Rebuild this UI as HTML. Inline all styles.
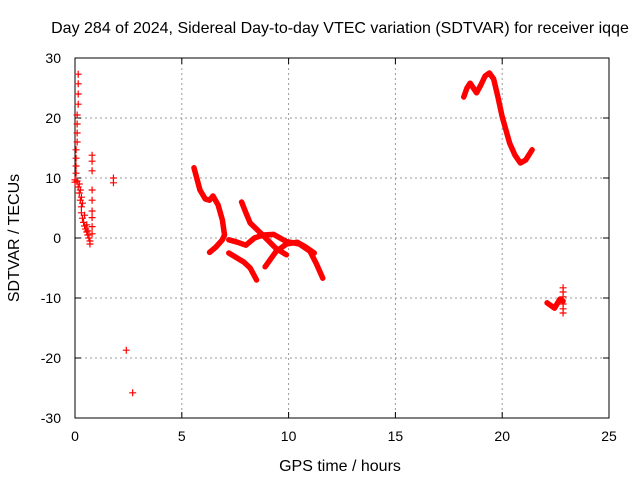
<!DOCTYPE html>
<html><head><meta charset="utf-8"><style>
body{margin:0;background:#fff}
svg text{font-family:"Liberation Sans",sans-serif;font-size:14px;fill:#000}
svg text.big{font-size:16px}
</style></head><body>
<svg id="chart" width="640" height="480" xmlns="http://www.w3.org/2000/svg">
<rect width="640" height="480" fill="#fff"/>
<g id="grid"></g>
<g id="axes"></g>
<g id="marks"></g>
<text class="big" x="340" y="33" text-anchor="middle">Day 284 of 2024, Sidereal Day-to-day VTEC variation (SDTVAR) for receiver iqqe</text>
<text class="big" x="340" y="471" text-anchor="middle">GPS time / hours</text>
<text class="big" transform="translate(19,238) rotate(-90)" text-anchor="middle">SDTVAR / TECUs</text>
</svg>
<script>
const xTicks=[0,5,10,15,20,25];
const yTicks=[-30,-20,-10,0,10,20,30];
// thick continuous tracks: [hours, tecu]
const trackA=[[5.57,11.7],[5.7,10],[5.85,8],[6.1,6.5],[6.3,6.3],[6.46,7.0],[6.7,5.5],[6.9,3],[7.0,0.5],[6.9,-0.3],[6.6,-1.5],[6.3,-2.4]];
const trackB=[[7.2,-0.3],[7.6,-0.7],[8.0,-1.2],[8.4,0],[8.8,0.5],[9.3,0.6],[9.9,-0.6],[10.5,-1],[11.0,-2.2],[11.3,-4.3],[11.6,-6.7]];
const trackC=[[7.8,6],[8.0,4.2],[8.2,2.5],[8.7,0.8],[9.4,-1.7],[9.9,-2.8]];
const trackD=[[7.2,-2.5],[7.9,-4],[8.2,-5],[8.5,-7]];
const trackE=[[8.9,-4.8],[9.4,-2.3],[9.9,-1],[10.4,-0.7],[10.8,-1.5],[11.2,-2.5]];
const trackF=[[18.2,23.5],[18.35,25],[18.5,25.8],[18.8,24.2],[19.0,25.5],[19.2,27.0],[19.4,27.5],[19.6,26.5],[19.8,23.5],[20.0,20.2],[20.35,15.8],[20.6,13.8],[20.85,12.5],[21.1,13],[21.4,14.7]];
const trackG=[[22.1,-10.8],[22.45,-11.7],[22.7,-10.2],[22.85,-10.5]];
// sparse individual markers
const pointsX=[0.15,0.15,0.15,0.15,0.1,0.1,0.1,0.1,0.05,0.05,0.05,0.05,0.0,0.0,0.1,0.15,0.2,0.25,0.3,0.3,0.35,0.4,0.45,0.5,0.55,0.6,0.65,0.7,0.7,
 0.2,0.25,0.3,0.35,0.45,0.55,0.6,
 0.8,0.8,0.8,0.8,0.8,0.8,0.8,0.8,0.8,1.8,1.8,2.4,2.7,22.85,22.85,22.85,22.85,22.85,22.85];
const pointsY=[27.3,25.7,24,22.3,20.5,19,17.5,16,14.7,13.3,12,10.8,9.7,9.3,9.5,8.5,7.5,6.3,5.2,4.2,3.3,2.6,2,1.5,1,0.5,0,-0.5,-1,
 9,8,6.8,5.8,3.8,2.2,1.2,
 13.8,12.8,11.2,8,6.3,4.5,3.4,1.9,0.7,10,9.2,-18.7,-25.8,-8.3,-9,-9.8,-11,-11.8,-12.5];
const X=h=>75+h*21.36, Y=v=>238-v*6;
const NS="http://www.w3.org/2000/svg";
function mk(t,a,p){const e=document.createElementNS(NS,t);for(const k in a)e.setAttribute(k,a[k]);p.appendChild(e);return e;}
const grid=document.getElementById('grid'),axes=document.getElementById('axes'),marks=document.getElementById('marks');
xTicks.forEach(t=>{
 if(t>0&&t<25){const l=mk('line',{x1:X(t),x2:X(t),y1:58,y2:418,stroke:'#999','stroke-dasharray':'2,3'},grid);
 
 }
 const tx=mk('text',{x:X(t),y:441,'text-anchor':'middle'},axes);tx.textContent=t;
 
 
 mk('line',{x1:X(t),x2:X(t),y1:418,y2:412,stroke:'#000'},axes);
 mk('line',{x1:X(t),x2:X(t),y1:58,y2:64,stroke:'#000'},axes);
});
yTicks.forEach(t=>{
 if(t>-30&&t<30){const l=mk('line',{x1:75,x2:609,y1:Y(t),y2:Y(t),stroke:'#999','stroke-dasharray':'2,3'},grid);
 
 }
 const tx=mk('text',{x:61,y:Y(t)+5,'text-anchor':'end'},axes);tx.textContent=t;
 
 
 mk('line',{x1:75,x2:81,y1:Y(t),y2:Y(t),stroke:'#000'},axes);
 mk('line',{x1:609,x2:603,y1:Y(t),y2:Y(t),stroke:'#000'},axes);
});
const fr=mk('rect',{x:75,y:58,width:534,height:360,fill:'none',stroke:'#000'},axes);


[trackA,trackB,trackC,trackD,trackE,trackF,trackG].forEach(tr=>{
 const p=mk('polyline',{points:tr.map(d=>X(d[0])+','+Y(d[1])).join(' '),fill:'none',stroke:'#f00','stroke-width':5.5,'stroke-linejoin':'round','stroke-linecap':'round'},marks);
 
 
});
pointsX.forEach((h,i)=>{
 const x=X(h),y=Y(pointsY[i]);
 const p=mk('path',{d:`M${x-3.5},${y}H${x+3.5}M${x},${y-3.5}V${y+3.5}`,stroke:'#f00','stroke-width':1.2},marks);
 
 
});
</script>
</body></html>
